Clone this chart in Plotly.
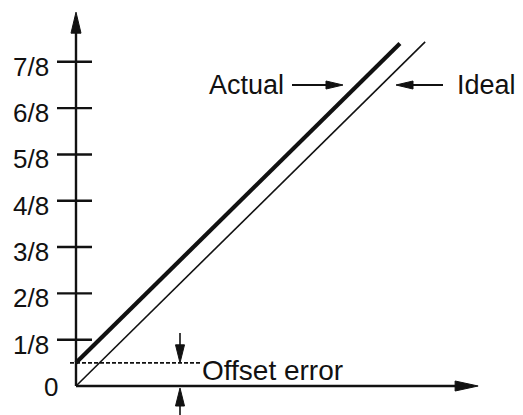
import plotly.graph_objects as go

# ---- data (in units of full scale) ----
tick_values = [1/8, 2/8, 3/8, 4/8, 5/8, 6/8, 7/8]
tick_labels = ["1/8", "2/8", "3/8", "4/8", "5/8", "6/8", "7/8"]
zero_label = "0"
ideal_x = [0.0, 0.929]
ideal_y = [0.0, 0.929]
offset_error = 1/16
actual_x = [0.0, 0.862]
actual_y = [offset_error, offset_error + 0.862]
y_axis_top = 1.009
x_axis_end = 1.070

# ---- geometry helpers (pixel sizes -> data units) ----
PAGE = 8                        # default body margin of the html page
W, H = 523 - PAGE, 415 - PAGE
PX_X, PX_Y = 375.8, 370.5       # pixels per unit
RX0, RY0 = 76, 386              # origin position on the page
X0, Y0 = RX0 - PAGE, RY0 - PAGE # origin position inside the figure
XR = [-X0 / PX_X, (W - X0) / PX_X]
YR = [-(H - Y0) / PX_Y, Y0 / PX_Y]

def dx(px):
    return px / PX_X

def dy(px):
    return px / PX_Y

def fx(page_px):
    return (page_px - RX0) / PX_X

def fy(page_py):
    return (RY0 - page_py) / PX_Y

INK = "#111111"
FONT = "Liberation Sans, Arial, Helvetica, sans-serif"

fig = go.Figure()

def seg(xs, ys, width, dash="solid"):
    fig.add_trace(go.Scatter(x=xs, y=ys, mode="lines", cliponaxis=False,
                             line=dict(color=INK, width=width, dash=dash),
                             hoverinfo="skip", showlegend=False))

def head(tx, ty, ux, uy, length, width):
    # filled triangle, tip at (tx, ty), pointing along pixel direction (ux, uy)
    bx, by = -ux * length, -uy * length
    px_, py_ = -uy * width / 2, ux * width / 2
    xs = [tx, tx + dx(bx + px_), tx + dx(bx - px_), tx]
    ys = [ty, ty + dy(by + py_), ty + dy(by - py_), ty]
    fig.add_trace(go.Scatter(x=xs, y=ys, mode="lines", fill="toself", fillcolor=INK,
                             cliponaxis=False, line=dict(color=INK, width=1),
                             hoverinfo="skip", showlegend=False))

# axes
seg([0, 0], [0, y_axis_top - dy(12)], 2.4)
head(0, y_axis_top, 0, 1, 21, 10)
seg([0, x_axis_end - dx(12)], [0, 0], 2.4)
head(x_axis_end, 0, 1, 0, 23, 10)

# tick marks crossing the y axis
for v in tick_values:
    seg([-dx(19), dx(16)], [v, v], 2.4)

# tick labels
for v, t in zip(tick_values, tick_labels):
    fig.add_annotation(x=-dx(25), y=v - dy(5), text=t, showarrow=False,
                       xanchor="right", yanchor="middle",
                       font=dict(size=26, color=INK, family=FONT))
fig.add_annotation(x=-dx(16), y=-dy(1), text=zero_label, showarrow=False,
                   xanchor="right", yanchor="middle",
                   font=dict(size=26, color=INK, family=FONT))

# transfer lines
seg(ideal_x, ideal_y, 1.6)
seg(actual_x, actual_y, 4.2)

# offset error marker
seg([fx(70), fx(200)], [offset_error, offset_error], 1.7, dash="4px,2px")
mx = fx(180)
seg([mx, mx], [fy(333), offset_error + dy(12)], 1.6)
head(mx, offset_error, 0, -1, 18, 9)
seg([mx, mx], [fy(420), fy(400)], 1.6)
head(mx, fy(388), 0, 1, 18, 9)
fig.add_annotation(x=fx(200), y=fy(370), text="Offset error", showarrow=False,
                   xanchor="left", yanchor="middle",
                   font=dict(size=28, color=INK, family=FONT))

# Actual / Ideal callouts
lyv = fy(85)
seg([fx(292), fx(330)], [lyv, lyv], 1.8)
head(fx(343), lyv, 1, 0, 17, 8)
fig.add_annotation(x=fx(207), y=lyv, text="Actual", showarrow=False,
                   xanchor="left", yanchor="middle",
                   font=dict(size=27, color=INK, family=FONT))
seg([fx(408), fx(443)], [lyv, lyv], 1.8)
head(fx(396), lyv, -1, 0, 17, 8)
fig.add_annotation(x=fx(455), y=lyv, text="Ideal", showarrow=False,
                   xanchor="left", yanchor="middle",
                   font=dict(size=27, color=INK, family=FONT))

fig.update_layout(
    width=W, height=H, autosize=False,
    margin=dict(l=0, r=0, t=0, b=0),
    paper_bgcolor="white", plot_bgcolor="white",
    xaxis=dict(range=XR, visible=False, fixedrange=True),
    yaxis=dict(range=YR, visible=False, fixedrange=True),
    showlegend=False,
)

fig.write_html("out.html")
